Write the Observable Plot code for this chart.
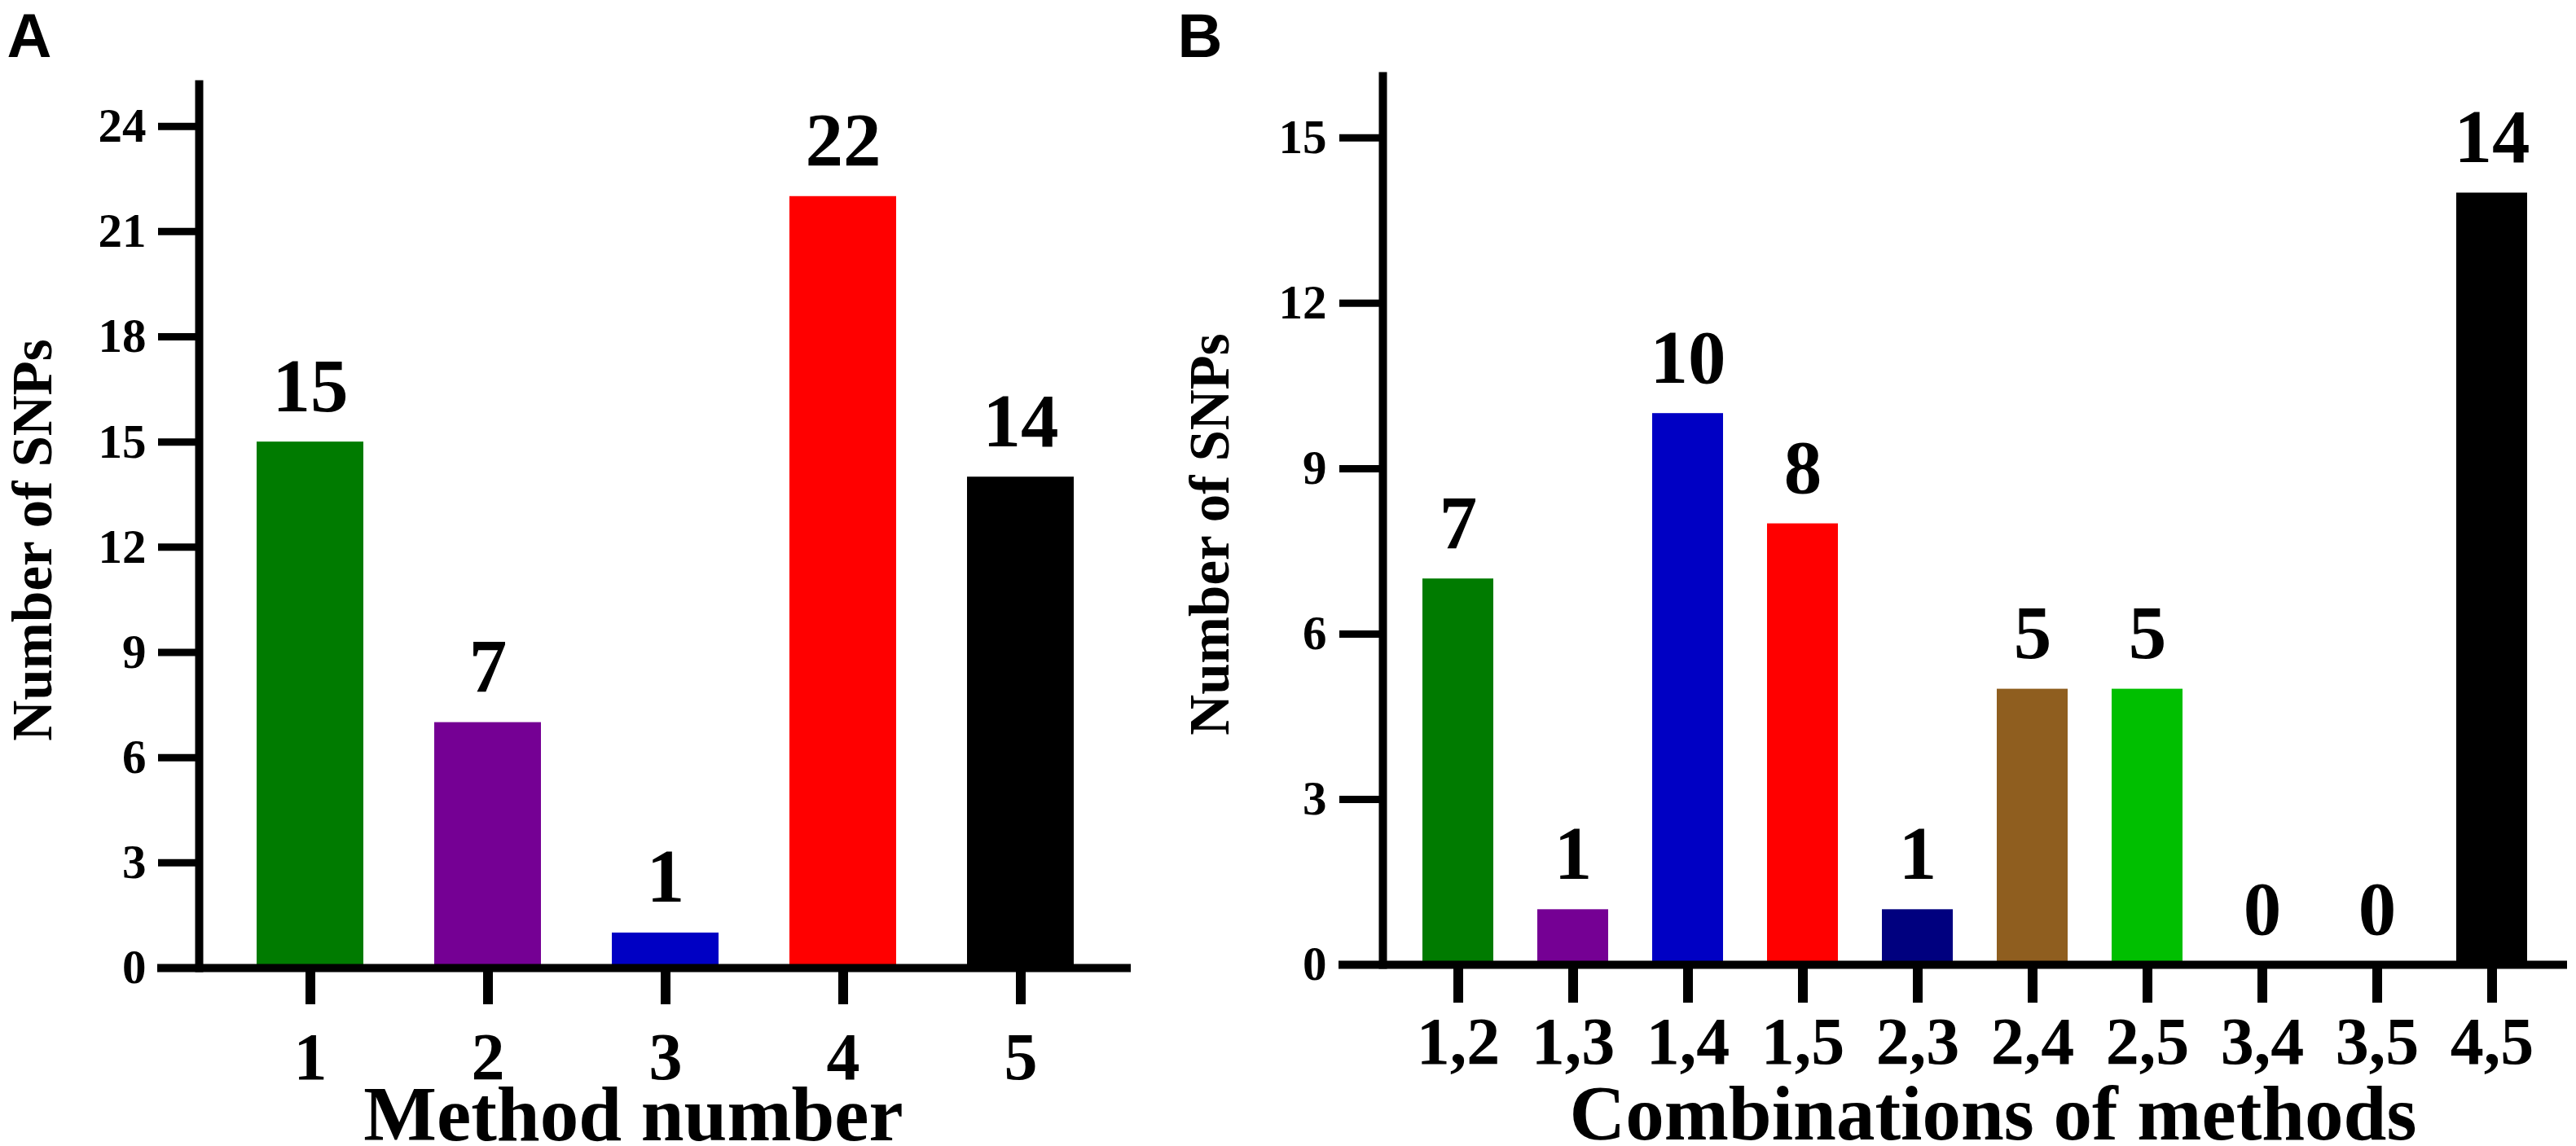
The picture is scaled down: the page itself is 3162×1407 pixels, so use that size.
<!DOCTYPE html>
<html>
<head>
<meta charset="utf-8">
<script src="https://cdn.jsdelivr.net/npm/d3@7"></script>
<script src="https://cdn.jsdelivr.net/npm/@observablehq/plot@0.6"></script>
<style>
  html, body { margin: 0; padding: 0; background: #fff; }
  body { width: 3162px; height: 1407px; position: relative; overflow: hidden; }
  .panel { position: absolute; top: 0; }
  .panel svg { background: transparent !important; max-width: none !important; }
</style>
</head>
<body>
<div id="panelA" class="panel" style="left:0px;width:1560px;height:1407px"></div>
<div id="panelB" class="panel" style="left:1400px;width:1762px;height:1407px"></div>
<script>
// ---- Data ----
const methods = ["1", "2", "3", "4", "5"];
const methodCounts = [15, 7, 1, 22, 14];
const methodColors = ["#007b00", "#750094", "#0000c4", "#ff0000", "#000000"];
const yTicksA = [0, 3, 6, 9, 12, 15, 18, 21, 24];

const combos = ["1,2", "1,3", "1,4", "1,5", "2,3", "2,4", "2,5", "3,4", "3,5", "4,5"];
const comboCounts = [7, 1, 10, 8, 1, 5, 5, 0, 0, 14];
const comboColors = ["#007b00", "#750094", "#0000c4", "#ff0000", "#00007f", "#8f5e1f", "#00bf00", "#808080", "#808080", "#000000"];
const yTicksB = [0, 3, 6, 9, 12, 15];

const yLabel = "Number of SNPs";
const xLabelA = "Method number";
const xLabelB = "Combinations of methods";

const serif = '"Liberation Serif", "Times New Roman", Times, serif';
const sans = '"Liberation Sans", Arial, Helvetica, sans-serif';

const dataA = methods.map((m, i) => ({cat: m, n: methodCounts[i]}));
const dataB = combos.map((m, i) => ({cat: m, n: comboCounts[i]}));

function panel({data, cats, colors, yTicks, yMax, width, marginLeft, marginRight, marginTop, marginBottom,
                paddingInner, paddingOuter, yTickSize, yTickPad, xTickSize, xTickPad, axisInset,
                yLabDx, xLab, xLabDx, xLabDy, letter, letterDx, letterDy}) {
  return Plot.plot({
    width, height: 1407,
    marginLeft, marginRight, marginTop, marginBottom,
    style: {fontFamily: serif, background: "transparent", color: "#000"},
    x: {domain: cats, paddingInner, paddingOuter},
    y: {domain: [0, yMax]},
    color: {domain: cats, range: colors},
    marks: [
      Plot.barY(data, {x: "cat", y: "n", fill: "cat"}),
      Plot.ruleY([0], {stroke: "#000", strokeWidth: 10, insetLeft: axisInset}),
      Plot.frame({anchor: "left", stroke: "#000", strokeWidth: 10}),
      Plot.axisY({ticks: yTicks, tickSize: yTickSize, tickPadding: yTickPad, strokeWidth: 9,
                  fontSize: 59, fontWeight: "bold", label: null, tickFormat: d => String(d)}),
      Plot.axisX({tickSize: xTickSize, tickPadding: xTickPad, strokeWidth: 12,
                  fontSize: 82, fontWeight: "bold", label: null}),
      Plot.text(data, {x: "cat", y: "n", text: d => String(d.n), dy: -38, lineAnchor: "bottom",
                       fontSize: 93, fontWeight: "bold", fill: "#000"}),
      Plot.text([yLabel], {frameAnchor: "left", textAnchor: "middle", rotate: -90, dx: yLabDx, dy: 17,
                           lineAnchor: "bottom", fontSize: 69, fontWeight: "bold", fill: "#000"}),
      Plot.text([xLab], {frameAnchor: "bottom", textAnchor: "middle", lineAnchor: "bottom", dx: xLabDx, dy: xLabDy,
                         fontSize: 95, fontWeight: "bold", fill: "#000"}),
      Plot.text([letter], {frameAnchor: "top-left", textAnchor: "start", lineAnchor: "bottom",
                           dx: letterDx, dy: letterDy, fontSize: 76, fontWeight: "bold",
                           fontFamily: sans, fill: "#000"})
    ]
  });
}

document.getElementById("panelA").append(panel({
  data: dataA, cats: methods, colors: methodColors, yTicks: yTicksA, yMax: 25.2,
  width: 1560, marginLeft: 244, marginRight: 1560 - 1388, marginTop: 103, marginBottom: 1407 - 1188,
  paddingInner: 0.4, paddingOuter: 0.32, yTickSize: 50, yTickPad: 15, xTickSize: 45, xTickPad: 33,
  axisInset: -51, yLabDx: -182, xLab: xLabelA, xLabDx: -39, xLabDy: 211,
  letter: "A", letterDx: -236, letterDy: -34
}));

document.getElementById("panelB").append(panel({
  data: dataB, cats: combos, colors: comboColors, yTicks: yTicksB, yMax: 16.12,
  width: 1762, marginLeft: 297, marginRight: 11, marginTop: 93, marginBottom: 1407 - 1184,
  paddingInner: 0.38, paddingOuter: 0.32, yTickSize: 53, yTickPad: 16, xTickSize: 47, xTickPad: 16,
  axisInset: -54, yLabDx: -190, xLab: xLabelB, xLabDx: 22, xLabDy: 214,
  letter: "B", letterDx: -252, letterDy: -24
}));
</script>
</body>
</html>
